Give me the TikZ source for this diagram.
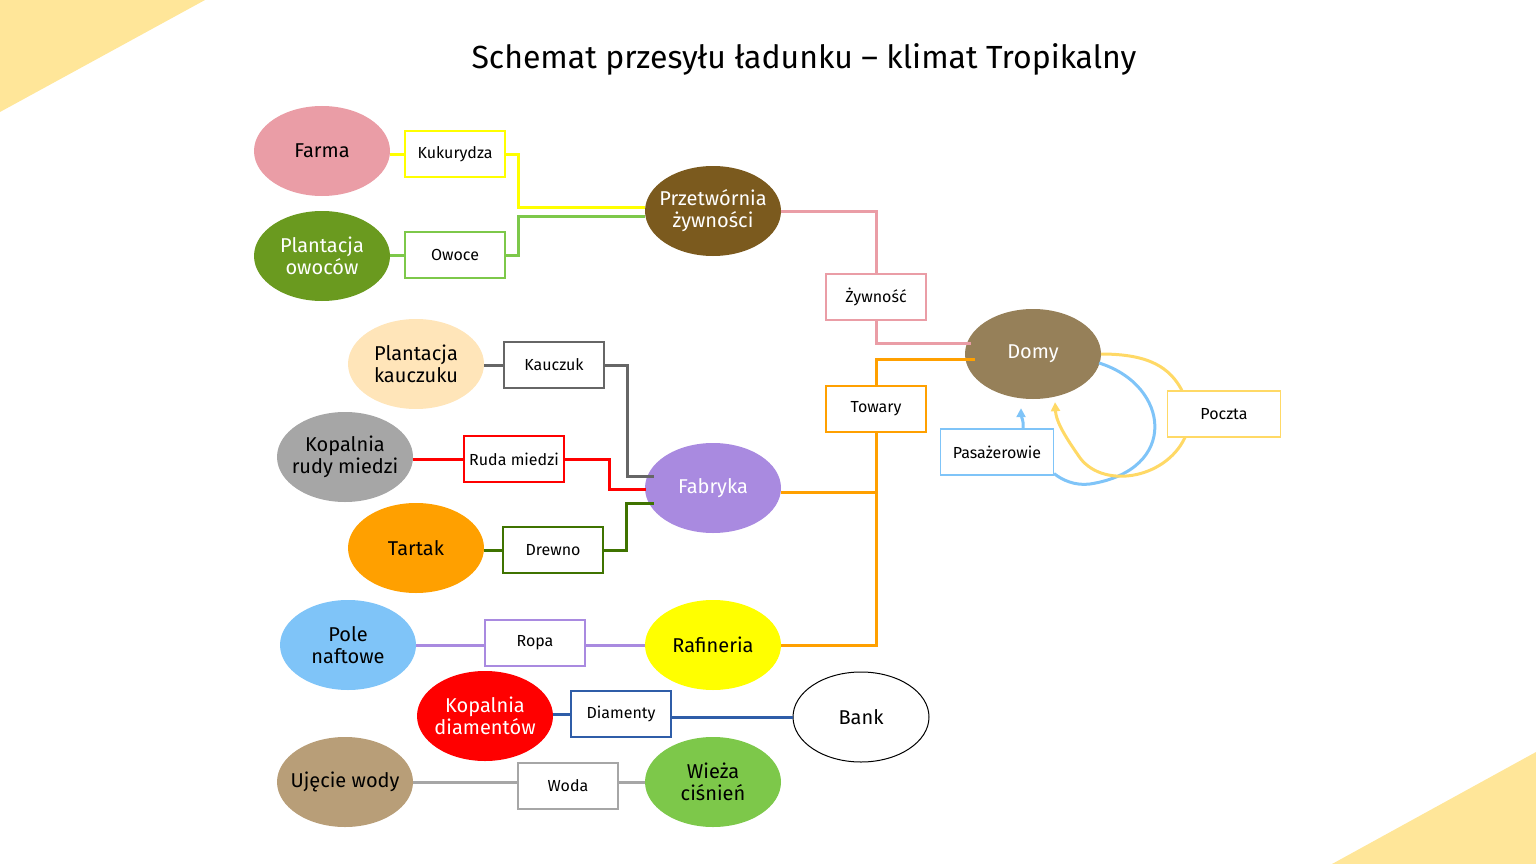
\documentclass[tikz,border=0pt]{standalone}
\usepackage{fontspec}
\setmainfont{Fira Sans}
\usetikzlibrary{shapes.geometric,arrows.meta,calc}
\definecolor{tri}{HTML}{FFE699}
\definecolor{cpink}{HTML}{EA9DA6}
\definecolor{cgreenA}{HTML}{6A9A1F}
\definecolor{cbrown}{HTML}{7B5A1E}
\definecolor{cpeach}{HTML}{FFE5B9}
\definecolor{cgrey}{HTML}{A6A6A6}
\definecolor{corange}{HTML}{FFA000}
\definecolor{cpurple}{HTML}{A98AE0}
\definecolor{csky}{HTML}{7FC4F8}
\definecolor{cyellow}{HTML}{FFFF00}
\definecolor{cred}{HTML}{FF0000}
\definecolor{ctan}{HTML}{B89E78}
\definecolor{cgreenB}{HTML}{7DC84A}
\definecolor{cdomy}{HTML}{968059}
\definecolor{cdgrey}{HTML}{666666}
\definecolor{cdgreen}{HTML}{3F7300}
\definecolor{cblue}{HTML}{2F5DA8}
\definecolor{cgold}{HTML}{FFD966}
\tikzset{
  place/.style={ellipse,minimum width=136,minimum height=90,inner xsep=-30pt,inner ysep=-10pt,align=center,font=\fontsize{20}{22}\selectfont},
  cargo/.style={draw=#1,line width=1.2pt,fill=white,minimum width=100,minimum height=46,inner sep=0pt,font=\fontsize{16}{18}\selectfont},
  link/.style={draw=#1,line width=3pt},
}
\begin{document}
\begin{tikzpicture}[x=1pt,y=-1pt]
\useasboundingbox (0,0) rectangle (1536,864);
\fill[tri] (0,0) -- (205,0) -- (0,112) -- cycle;
\fill[tri] (1536,752) -- (1536,864) -- (1332,864) -- cycle;
\node (title) at (804,59) {\fontsize{32}{36}\selectfont Schemat przesyłu ładunku – klimat Tropikalny};

% places
\node[place,fill=cpink] (farma) at (322,151) {Farma};
\node[place,fill=cgreenA,text=white] (owo) at (322,256) {Plantacja\\owoców};
\node[place,fill=cbrown,text=white] (prz) at (713,211) {Przetwórnia\\żywności};
\node[place,fill=cpeach] (pk) at (416,364) {Plantacja\\kauczuku};
\node[place,fill=cgrey] (krm) at (345,457) {Kopalnia\\rudy miedzi};
\node[place,fill=corange] (tart) at (416,548) {Tartak};
\node[place,fill=cpurple,text=white] (fab) at (713,488) {Fabryka};
\node[place,fill=csky] (pole) at (348,645) {Pole\\naftowe};
\node[place,fill=cyellow] (raf) at (713,645) {Rafineria};
\node[place,fill=cred,text=white] (kd) at (485,716) {Kopalnia\\diamentów};
\node[place,draw=black,line width=1pt,fill=white] (bank) at (861,717) {Bank};
\node[place,fill=ctan] (uw) at (345,782) {Ujęcie wody};
\node[place,fill=cgreenB] (wc) at (713,782) {Wieża\\ciśnień};
\node[place,fill=cdomy,text=white] (domy) at (1033,354) {Domy};

% cargo boxes
\node[cargo=cyellow] (kuk) at (455,154) {Kukurydza};
\node[cargo=cgreenB] (owoce) at (455,255) {Owoce};
\node[cargo=cpink] (zyw) at (876,297) {Żywność};
\node[cargo=corange] (tow) at (876,409) {Towary};
\node[cargo=cdgrey] (kau) at (554,365) {Kauczuk};
\node[cargo=cred] (ruda) at (514,459) {Ruda miedzi};
\node[cargo=cdgreen] (drew) at (553,550) {Drewno};
\node[cargo=cpurple] (ropa) at (535,643) {Ropa};
\node[cargo=cblue] (diam) at (621,714) {Diamenty};
\node[cargo=cgrey] (woda) at (568,786) {Woda};
\node[cargo=csky,minimum width=113] (pas) at (997,452) {Pasażerowie};
\node[cargo=cgold,minimum width=113] (pocz) at (1224,414) {Poczta};

% links
\draw[link=cyellow] (farma.east |- kuk.west) -- (kuk.west);
\draw[link=cyellow] (kuk.east) -- ++(13,0) |- ($(prz.west)+(0,-4)$);
\draw[link=cgreenB] (owo.east |- owoce.west) -- (owoce.west);
\draw[link=cgreenB] (owoce.east) -- ++(13,0) |- ($(prz.west)+(0,5)$);
\draw[link=cpink] (prz.east) -| (zyw.north);
\draw[link=cpink] (zyw.south) |- ($(domy.west)+(6,-11)$);
\draw[link=corange] ($(domy.west)+(10,5)$) -| (tow.north);
\draw[link=corange] (tow.south) |- (raf.east);
\draw[link=corange] ($(fab.east)+(0,4)$) -- ($(fab.east -| tow.south)+(0,4)$);
\draw[link=cdgrey] (pk.east |- kau.west) -- (kau.west);
\draw[link=cdgrey] (kau.east) -- ++(23,0) |- ($(fab.west)+(9,-12)$);
\draw[link=cred] (krm.east |- ruda.west) -- (ruda.west);
\draw[link=cred] (ruda.east) -- ++(45,0) |- ($(fab.west)+(1,1)$);
\draw[link=cdgreen] (tart.east |- drew.west) -- (drew.west);
\draw[link=cdgreen] (drew.east) -- ++(23,0) |- ($(fab.west)+(9,15)$);
\draw[link=cpurple] (pole.east) -- (pole.east -| ropa.west);
\draw[link=cpurple] (raf.west -| ropa.east) -- (raf.west);
\draw[link=cblue] (kd.east |- diam.west) -- (diam.west);
\draw[link=cblue] (diam.east |- bank.west) -- (bank.west);
\draw[link=cgrey] (uw.east) -- (uw.east -| woda.west);
\draw[link=cgrey] (wc.west -| woda.east) -- (wc.west);

% loops at Domy
\coordinate (bstart) at (1099,363);
\coordinate (bend) at ($(pas.south east)+(0,-2)$);
\draw[csky,line width=3pt] (bstart) .. controls (1170,385) and (1180,470) .. (1090,484)
  .. controls (1075,486) and (1062,480) .. (bend);
\draw[csky,line width=3pt,-{Triangle[length=9pt,width=9pt]}] ($(pas.north)+(26,0)$) .. controls (1024,420) and (1021,416) .. ($(domy.south)+(-12,9)$);
\coordinate (ystart) at (1101,354);
\draw[cgold,line width=3pt] (ystart) .. controls (1150,354) and (1170,368) .. ($(pocz.north west)+(15,0)$);
\draw[cgold,line width=3pt,-{Triangle[length=9pt,width=9pt]}] ($(pocz.south west)+(18,0)$) .. controls (1165,480) and (1100,490) .. (1078,455)
  .. controls (1062,432) and (1056,420) .. ($(domy.south)+(22,3)$);
\end{tikzpicture}
\end{document}
